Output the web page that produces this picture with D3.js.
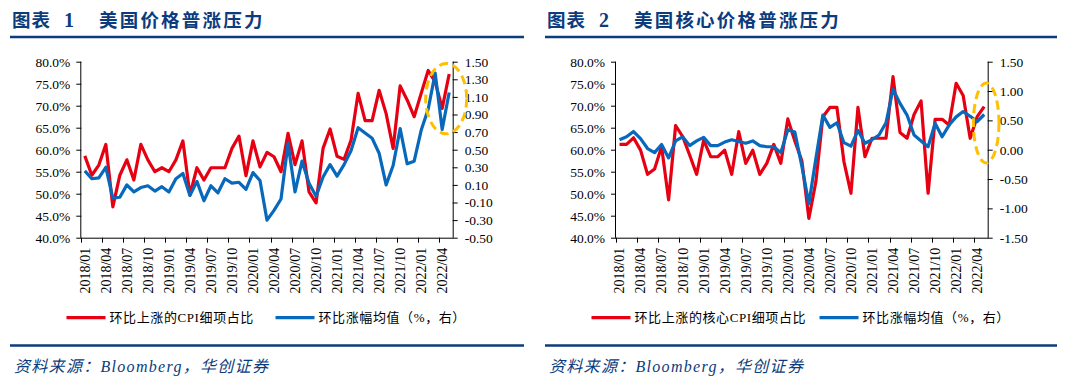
<!DOCTYPE html>
<html><head><meta charset="utf-8">
<script src="https://cdn.jsdelivr.net/npm/d3@7"></script>
<style>
html,body{margin:0;padding:0;background:#fff;}
svg{display:block;}
</style></head>
<body>
<script>
// ---------- DATA ----------
const categories = ["2018/01","2018/02","2018/03","2018/04","2018/05","2018/06","2018/07","2018/08","2018/09","2018/10","2018/11","2018/12",
"2019/01","2019/02","2019/03","2019/04","2019/05","2019/06","2019/07","2019/08","2019/09","2019/10","2019/11","2019/12",
"2020/01","2020/02","2020/03","2020/04","2020/05","2020/06","2020/07","2020/08","2020/09","2020/10","2020/11","2020/12",
"2021/01","2021/02","2021/03","2021/04","2021/05","2021/06","2021/07","2021/08","2021/09","2021/10","2021/11","2021/12",
"2022/01","2022/02","2022/03","2022/04","2022/05"];
const tickLabels = ["2018/01","2018/04","2018/07","2018/10","2019/01","2019/04","2019/07","2019/10","2020/01","2020/04","2020/07","2020/10","2021/01","2021/04","2021/07","2021/10","2022/01","2022/04"];

// Chart 1: share of CPI items rising m/m (%), average m/m change (%, right)
const cpiShare = [58.6,54.2,56.5,61.2,47.0,54.2,57.7,53.1,61.2,57.7,
55.0,55.9,55.0,57.7,62.0,49.7,55.9,53.1,55.9,55.9,
55.9,60.3,63.1,54.1,62.0,56.1,59.4,58.4,55.0,63.7,
56.6,62.0,50.4,47.9,60.3,64.7,58.5,57.8,62.2,72.8,
66.6,66.6,73.5,68.2,60.3,74.5,71.3,67.5,72.8,78.0,
75.4,69.4,77.2];
const cpiAvg = [0.26,0.17,0.18,0.30,-0.05,-0.04,0.10,0.02,0.07,0.09,
0.03,0.08,0.02,0.17,0.23,-0.02,0.14,-0.08,0.09,0.01,
0.17,0.12,0.13,0.05,0.24,0.15,-0.30,-0.19,-0.06,0.57,
0.02,0.37,0.12,-0.03,0.19,0.33,0.20,0.33,0.49,0.75,
0.69,0.63,0.46,0.10,0.32,0.74,0.34,0.37,0.72,0.96,
1.37,0.73,1.15];

// Chart 2: core CPI
const coreShare = [61.2,61.2,62.7,59.9,54.4,55.6,60.7,48.6,65.5,63.0,
58.8,54.4,62.2,58.4,58.4,59.9,54.4,64.1,56.9,59.9,
54.4,56.9,61.2,56.9,67.0,62.0,57.5,44.4,52.7,67.5,
69.6,69.6,57.3,50.1,69.6,58.4,62.6,62.6,62.6,76.6,
63.9,62.6,68.0,71.1,50.1,66.9,66.9,65.6,75.1,72.3,
62.6,67.5,69.8];
const coreAvg = [0.17,0.22,0.31,0.19,0.02,-0.05,0.09,-0.14,0.15,0.22,
0.07,0.15,0.21,0.07,0.07,0.13,0.17,0.14,0.11,0.15,
0.07,0.05,0.05,-0.05,0.34,0.30,-0.28,-0.92,-0.15,0.59,
0.38,0.46,0.12,0.06,0.33,0.11,0.17,0.25,0.46,1.03,
0.79,0.59,0.25,0.15,0.05,0.45,0.22,0.42,0.56,0.65,
0.57,0.48,0.60];

const leftTicks = [40,45,50,55,60,65,70,75,80];
const rightTicks1 = [-0.5,-0.3,-0.1,0.1,0.3,0.5,0.7,0.9,1.1,1.3,1.5];
const rightTicks2 = [-1.5,-1.0,-0.5,0,0.5,1.0,1.5];

const titles = ["美国价格普涨压力","美国核心价格普涨压力"];
const legend1 = ["环比上涨的CPI细项占比","环比涨幅均值（%，右）"];
const legend2 = ["环比上涨的核心CPI细项占比","环比涨幅均值（%，右）"];
const source = "资料来源：Bloomberg，华创证券";

// ---------- STYLE ----------
const RED = "#E60012", BLUE = "#0868BC", NAVY = "#0B3C7D", GOLD = "#FFC000";
const NUMFONT = "'Liberation Serif','Times New Roman',serif";
const CJKFONT = "'Liberation Serif','Noto Sans CJK SC',serif";

const W = 1069, H = 387;
const svg = d3.select("body").append("svg").attr("width", W).attr("height", H);

function panel(o) {
  const g = svg.append("g");
  // title
  const t = g.append("text").attr("x", o.x0 + 2).attr("y", 27)
    .attr("fill", NAVY).attr("font-weight", "bold").attr("font-size", 18.5)
    .attr("font-family", "'Noto Sans CJK SC',sans-serif");
  t.append("tspan").attr("letter-spacing", 1).text("图表");
  t.append("tspan").attr("dx", 13).attr("font-family", NUMFONT).attr("font-size", 20).text(o.num);
  t.append("tspan").attr("dx", 25).attr("letter-spacing", 2.2).text(o.title);
  g.append("line").attr("x1", o.x0).attr("x2", o.x1).attr("y1", 37).attr("y2", 37)
    .attr("stroke", NAVY).attr("stroke-width", 2.5);
  g.append("line").attr("x1", o.x0).attr("x2", o.x1).attr("y1", 345.5).attr("y2", 345.5)
    .attr("stroke", NAVY).attr("stroke-width", 2.5);
  g.append("text").attr("x", o.x0 + 4).attr("y", 372).attr("fill", NAVY)
    .attr("font-style", "italic").attr("font-size", 16).attr("letter-spacing", 1.3)
    .attr("font-family", CJKFONT).text(source);

  const top = 61.7, bottom = 237.7;
  const x = d3.scaleBand().domain(categories).range([o.left, o.right]).paddingInner(0).paddingOuter(0);
  const bw = x.bandwidth();
  const cx = c => x(c) + bw / 2;
  const yL = d3.scaleLinear().domain([40, 80]).range([bottom, top]);
  const yR = d3.scaleLinear().domain(o.rDomain).range([bottom, top]);

  // left axis
  const axL = g.append("g").attr("transform", `translate(${o.left},0)`)
    .call(d3.axisLeft(yL).tickValues(leftTicks).tickSize(5).tickPadding(6).tickFormat(d => d.toFixed(1) + "%"));
  axL.select(".domain").attr("d", `M-0.5,${top}V${bottom}`);
  // right axis
  const axR = g.append("g").attr("transform", `translate(${o.right},0)`)
    .call(d3.axisRight(yR).tickValues(o.rTicks).tickSize(5).tickPadding(7).tickFormat(d => d.toFixed(2)));
  axR.select(".domain").attr("d", `M0.5,${top}V${bottom}`);
  // bottom axis
  const axB = g.append("g").attr("transform", `translate(0,${bottom})`);
  axB.append("line").attr("x1", o.left - 0.5).attr("x2", o.right + 0.5).attr("y1", 0.5).attr("y2", 0.5)
    .attr("stroke", "#000").attr("stroke-width", 1);
  tickLabels.forEach(lbl => {
    const px = Math.round(x(lbl)) + 0.5;
    axB.append("line").attr("x1", px).attr("x2", px).attr("y1", 0).attr("y2", 5).attr("stroke", "#000");
    axB.append("text").attr("transform", `translate(${cx(lbl)},10) rotate(-90)`)
      .attr("text-anchor", "end").attr("dy", "0.35em")
      .attr("font-family", NUMFONT).attr("font-size", 14).attr("fill", "#000").text(lbl);
  });
  [axL, axR].forEach(a => {
    a.selectAll("text").attr("font-family", NUMFONT).attr("font-size", 13.5).attr("fill", "#000");
    a.selectAll("line").attr("stroke", "#000");
    a.select(".domain").attr("stroke", "#000");
  });

  // lines
  const lineL = d3.line().x((d, i) => cx(categories[i])).y(d => yL(d));
  const lineR = d3.line().x((d, i) => cx(categories[i])).y(d => yR(d));
  g.append("path").datum(o.share).attr("d", lineL).attr("fill", "none")
    .attr("stroke", RED).attr("stroke-width", 3.2).attr("stroke-linejoin", "round");
  g.append("path").datum(o.avg).attr("d", lineR).attr("fill", "none")
    .attr("stroke", BLUE).attr("stroke-width", 3.2).attr("stroke-linejoin", "round");

  // highlight ellipse around latest months
  const ec = categories[o.ellIdx];
  const ecy = yR(o.ellMid);
  g.append("ellipse").attr("cx", cx(ec) + o.ellDx).attr("cy", ecy)
    .attr("rx", o.ellRx).attr("ry", Math.abs(yR(o.ellMid + o.ellHalf) - ecy))
    .attr("fill", "none").attr("stroke", GOLD).attr("stroke-width", 3).attr("stroke-dasharray", "9,5");

  // legend
  const ly = 317.7;
  const lg = g.append("g");
  lg.append("line").attr("x1", o.leg[0]).attr("x2", o.leg[0] + 39).attr("y1", ly).attr("y2", ly)
    .attr("stroke", RED).attr("stroke-width", 3.2);
  lg.append("text").attr("x", o.leg[0] + 43).attr("y", ly).attr("dy", "0.35em")
    .attr("font-family", CJKFONT).attr("font-size", 13).attr("letter-spacing", 0.6).text(o.legText[0]);
  lg.append("line").attr("x1", o.leg[1]).attr("x2", o.leg[1] + 39).attr("y1", ly).attr("y2", ly)
    .attr("stroke", BLUE).attr("stroke-width", 3.2);
  lg.append("text").attr("x", o.leg[1] + 43).attr("y", ly).attr("dy", "0.35em")
    .attr("font-family", CJKFONT).attr("font-size", 13).attr("letter-spacing", 0.6).text(o.legText[1]);
}

panel({x0: 10, x1: 524, num: "1", title: titles[0], left: 81.3, right: 452.7,
  rDomain: [-0.5, 1.5], rTicks: rightTicks1, share: cpiShare, avg: cpiAvg,
  ellIdx: 51, ellDx: 4, ellMid: 1.08, ellHalf: 0.4, ellRx: 20.5,
  leg: [66.5, 275.5], legText: legend1});
panel({x0: 545, x1: 1057, num: "2", title: titles[1], left: 616, right: 987.7,
  rDomain: [-1.5, 1.5], rTicks: rightTicks2, share: coreShare, avg: coreAvg,
  ellIdx: 52, ellDx: 2, ellMid: 0.455, ellHalf: 0.68, ellRx: 12.8,
  leg: [591.5, 819.5], legText: legend2});
</script>
</body></html>
